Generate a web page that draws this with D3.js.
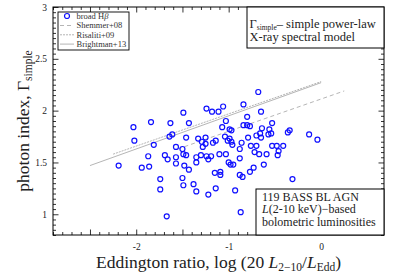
<!DOCTYPE html>
<html>
<head>
<meta charset="utf-8">
<script src="https://cdn.jsdelivr.net/npm/d3@7"></script>
<style>
  html, body { margin: 0; padding: 0; background: #fff; }
  svg { display: block; font-family: 'Liberation Serif', 'DejaVu Serif', serif; }
</style>
</head>
<body>
<svg id="chart" width="395" height="279"></svg>
<script>
// broad Hbeta sample: log(20 L2-10 / LEdd) and Gamma_simple
const logEdd = [
  -2.19, -2.03, -2.02, -1.94, -1.86, -1.87, -1.84, -1.81, -1.74, -1.74,
  -1.67, -1.69, -1.66, -1.63, -1.64, -1.61, -1.57, -1.57, -1.57,
  -1.49, -1.43, -1.46, -1.50, -1.49, -1.46, -1.48, -1.43, -1.50, -1.49,
  -1.38, -1.35, -1.22, -1.14, -1.33, -1.35, -1.35, -1.30, -1.24, -1.18,
  -1.11, -1.06, -0.84, -1.03, -0.80, -1.07, -0.99, -0.97, -0.84, -0.80,
  -0.77, -1.29, -1.25, -1.25, -1.17, -1.14, -1.28, -1.04, -0.99, -0.97,
  -0.96, -0.86, -0.79, -0.70, -0.88, -0.76, -0.70, -1.24, -1.19, -1.22,
  -1.10, -1.03, -0.88, -1.00, -0.98, -0.95, -1.15, -1.09, -1.09, -0.88,
  -0.85, -0.77, -0.73, -0.62, -0.93, -0.87, -0.72, -0.67, -0.68, -0.65,
  -0.53, -0.56, -0.54, -0.57, -0.65, -0.34, -0.36, -0.13, -0.04, -0.53,
  -0.48, -0.41, -0.46, -0.47, -0.59, -0.31, -0.64, -0.66, -1.01
];
const gamma = [
  1.47, 1.84, 1.71, 1.45, 1.46, 1.56, 1.89, 1.67, 1.34, 1.24,
  0.98, 1.57, 1.53, 1.88, 1.75, 1.77, 1.65, 1.55, 1.49,
  1.98, 1.88, 1.74, 1.63, 1.58, 1.57, 1.47, 1.43, 1.35, 1.28,
  1.29, 1.22, 1.19, 1.25, 1.73, 1.55, 1.50, 1.57, 2.02, 1.99,
  1.99, 2.04, 2.06, 1.90, 1.94, 1.84, 1.82, 1.81, 1.86, 1.86,
  1.85, 1.70, 1.68, 1.74, 1.69, 1.71, 1.65, 1.75, 1.73, 1.70,
  1.67, 1.69, 1.74, 1.76, 1.63, 1.66, 1.66, 1.56, 1.56, 1.53,
  1.58, 1.58, 1.54, 1.50, 1.48, 1.48, 1.40, 1.41, 1.38, 1.38,
  1.36, 1.41, 1.45, 1.48, 1.23, 1.02, 1.60, 1.58, 2.18, 1.99,
  1.88, 1.82, 1.78, 1.77, 1.74, 1.81, 1.79, 1.77, 1.72, 1.66,
  1.66, 1.66, 1.61, 1.57, 1.58, 1.34, 1.83, 1.78, 1.71
];

// literature relations, drawn between their end points
const relNames = ['Shemmer+08', 'Risaliti+09', 'Brightman+13'];
const relX = [[-1.55, 0.25], [-2.25, 0.0], [-2.5, 0.0]];
const relY = [[1.63, 2.19], [1.58, 2.28], [1.47, 2.27]];
const relDash = ['4,3', '2,1', null];

const xMajor = [-2.5, -2, -1.5, -1, -0.5, 0, 0.5];
const xLabels = [-2, -1, 0];
const yMajor = [1, 1.5, 2, 2.5, 3];

const W = 395, H = 279;
const margin = { top: 7, right: 11, bottom: 44, left: 53 };
const pw = W - margin.left - margin.right;
const ph = H - margin.top - margin.bottom;

const svg = d3.select('#chart');
const g = svg.append('g').attr('transform', `translate(${margin.left},${margin.top})`);

const x = d3.scaleLinear().domain([-2.9, 0.68]).range([0, pw]);
const y = d3.scaleLinear().domain([0.8, 3]).range([ph, 0]);

const xMinor = d3.range(-2.9, 0.68, 0.1).map(v => +v.toFixed(2)).filter(v => !xMajor.some(m => Math.abs(m - v) < 1e-6));
const yMinor = d3.range(0.8, 3.0001, 0.05).map(v => +v.toFixed(2)).filter(v => !yMajor.some(m => Math.abs(m - v) < 1e-6));

// inward ticks on all four sides
function addAxis(axisFn, scale, values, size, transform, fmt) {
  const a = g.append('g')
    .attr('transform', transform)
    .call(axisFn(scale).tickValues(values).tickSize(-size).tickPadding(8).tickFormat(fmt));
  a.select('.domain').remove();
  a.selectAll('line').attr('stroke', '#000').attr('stroke-width', 0.8);
  a.selectAll('text').attr('font-family', 'Liberation Serif, serif').attr('font-size', 9.5).attr('fill', '#222');
  return a;
}
const none = () => '';
addAxis(d3.axisBottom, x, xMajor, 5.5, `translate(0,${ph})`, d => xLabels.includes(d) ? (d < 0 ? '-' + Math.abs(d) : d) : '');
addAxis(d3.axisBottom, x, xMinor, 3, `translate(0,${ph})`, none);
addAxis(d3.axisTop, x, xMajor, 5.5, 'translate(0,0)', none);
addAxis(d3.axisTop, x, xMinor, 3, 'translate(0,0)', none);
addAxis(d3.axisLeft, y, yMajor, 5.5, 'translate(0,0)', d => d).selectAll('text').attr('dx', 2);
addAxis(d3.axisLeft, y, yMinor, 3, 'translate(0,0)', none);
addAxis(d3.axisRight, y, yMajor, 5.5, `translate(${pw},0)`, none);
addAxis(d3.axisRight, y, yMinor, 3, `translate(${pw},0)`, none);

// relations
const line = d3.line().x(d => x(d[0])).y(d => y(d[1]));
relNames.forEach((n, i) => {
  g.append('path')
    .attr('d', line(relX[i].map((v, j) => [v, relY[i][j]])))
    .attr('fill', 'none')
    .attr('stroke', '#adadad')
    .attr('stroke-width', 0.9)
    .attr('stroke-dasharray', relDash[i]);
});

// points
g.append('g').selectAll('circle')
  .data(logEdd.map((v, i) => [v, gamma[i]]))
  .join('circle')
  .attr('cx', d => x(d[0]))
  .attr('cy', d => y(d[1]))
  .attr('r', 2.5)
  .attr('fill', 'none')
  .attr('stroke', '#1010ff')
  .attr('stroke-width', 1.2);

// frame
g.append('rect').attr('width', pw).attr('height', ph)
  .attr('fill', 'none').attr('stroke', '#000').attr('stroke-width', 1);

// legend
const lg = g.append('g').attr('transform', 'translate(5,5)');
lg.append('rect').attr('width', 71).attr('height', 38)
  .attr('fill', '#fff').attr('stroke', '#000').attr('stroke-width', 0.9);
lg.append('circle').attr('cx', 9).attr('cy', 4).attr('r', 2.5)
  .attr('fill', 'none').attr('stroke', '#1010ff').attr('stroke-width', 1.2);
lg.append('text').attr('x', 18.5).attr('y', 6.5).attr('font-size', 8.5).attr('fill', '#333')
  .text('broad H').append('tspan').attr('font-style', 'italic').text('β');
relNames.forEach((n, i) => {
  const yy = 13.5 + i * 9.3;
  lg.append('line').attr('x1', 2).attr('x2', 16).attr('y1', yy).attr('y2', yy)
    .attr('stroke', '#adadad').attr('stroke-width', 0.9).attr('stroke-dasharray', relDash[i]);
  lg.append('text').attr('x', 18.5).attr('y', yy + 2.8).attr('font-size', 8.5).attr('fill', '#333').text(n);
});

// top-right note
const tr = g.append('g').attr('transform', `translate(${pw - 137},0)`);
tr.append('rect').attr('width', 137).attr('height', 41)
  .attr('fill', '#fff').attr('stroke', '#000').attr('stroke-width', 1);
const t1 = tr.append('text').attr('x', 2.5).attr('y', 20.5).attr('font-size', 12.5).attr('fill', '#222');
t1.append('tspan').text('Γ');
t1.append('tspan').attr('font-size', 7.5).attr('dy', 2).text('simple');
t1.append('tspan').attr('dy', -2).text('– simple power-law');
tr.append('text').attr('x', 2.5).attr('y', 34).attr('font-size', 12.5).attr('fill', '#222').text('X-ray spectral model');

// bottom-right note
const br = g.append('g').attr('transform', `translate(${pw - 128},${ph - 46})`);
br.append('rect').attr('width', 128).attr('height', 46)
  .attr('fill', '#fff').attr('stroke', '#000').attr('stroke-width', 1);
br.append('text').attr('x', 6).attr('y', 11.5).attr('font-size', 12).attr('fill', '#222').text('119 BASS BL AGN');
const b2 = br.append('text').attr('x', 6).attr('y', 24).attr('font-size', 12).attr('fill', '#222');
b2.append('tspan').attr('font-style', 'italic').text('L');
b2.append('tspan').text('(2-10 keV)−based');
br.append('text').attr('x', 6).attr('y', 36.5).attr('font-size', 12).attr('fill', '#222').text('bolometric luminosities');

// axis titles
const xt = svg.append('text')
  .attr('x', margin.left + pw / 2).attr('y', 268)
  .attr('text-anchor', 'middle').attr('font-size', 17.5).attr('fill', '#222');
xt.append('tspan').text('Eddington ratio, log (20 ');
xt.append('tspan').attr('font-style', 'italic').text('L');
xt.append('tspan').attr('font-size', 11.5).attr('dy', 3).text('2−10');
xt.append('tspan').attr('dy', -3).text('/');
xt.append('tspan').attr('font-style', 'italic').text('L');
xt.append('tspan').attr('font-size', 11.5).attr('dy', 3).text('Edd');
xt.append('tspan').attr('dy', -3).text(')');

const yt = svg.append('text')
  .attr('transform', `translate(29,${margin.top + ph / 2}) rotate(-90)`)
  .attr('text-anchor', 'middle').attr('font-size', 17.5).attr('fill', '#222');
yt.append('tspan').text('photon index, Γ');
yt.append('tspan').attr('font-size', 11.5).attr('dy', 3).text('simple');
</script>
</body>
</html>
